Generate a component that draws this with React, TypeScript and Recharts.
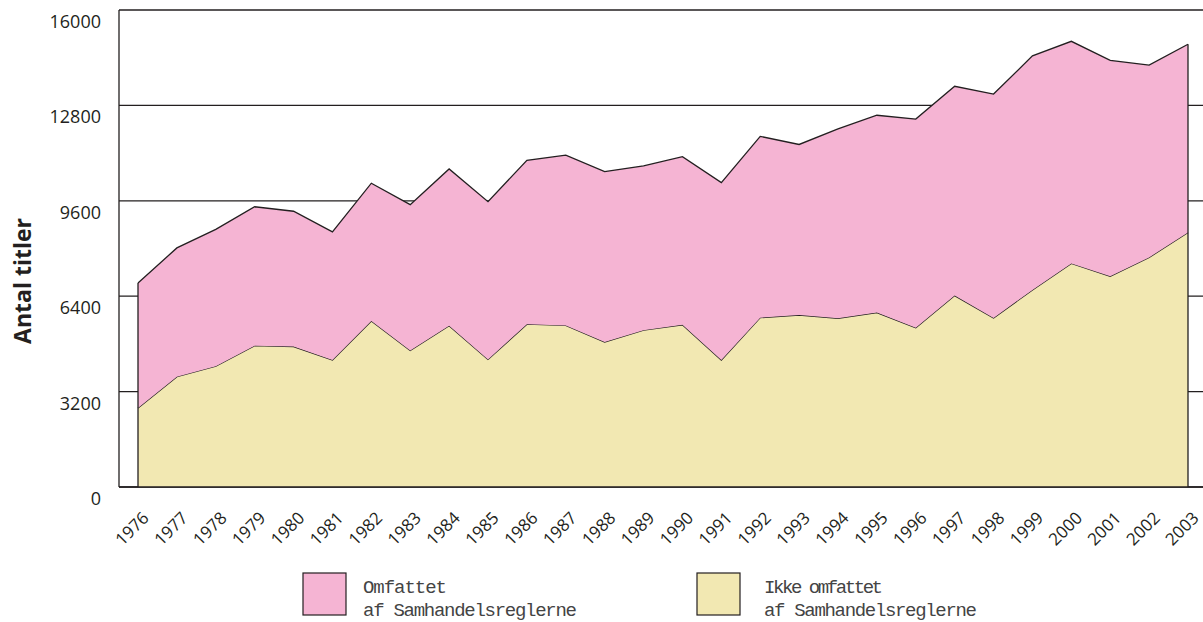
import React from 'react';
import { AreaChart, Area, XAxis, YAxis, CartesianGrid, ReferenceLine } from 'recharts';

const years = ['1976','1977','1978','1979','1980','1981','1982','1983','1984','1985','1986','1987','1988','1989','1990','1991','1992','1993','1994','1995','1996','1997','1998','1999','2000','2001','2002','2003'];
const ikkeOmfattet = [2650,3700,4050,4740,4710,4260,5570,4580,5410,4280,5460,5420,4860,5260,5440,4260,5680,5770,5660,5850,5340,6420,5670,6610,7500,7070,7700,8540];
const omfattet = [4190,4320,4590,4660,4540,4300,4620,4890,5260,5290,5500,5710,5720,5510,5640,5950,6080,5720,6350,6620,7000,7020,7510,7850,7450,7240,6450,6310];
const yTicks = [0,3200,6400,9600,12800,16000];
const seriesNames = ['Omfattet', 'Ikke omfattet'];
const legendSub = 'af Samhandelsreglerne';

const data = years.map((year, i) => ({ year, ikke: ikkeOmfattet[i], omfattet: omfattet[i] }));
const firstTotal = ikkeOmfattet[0] + omfattet[0];
const lastIdx = years.length - 1;
const lastTotal = ikkeOmfattet[lastIdx] + omfattet[lastIdx];

const FONT = '"Open Sans", sans-serif';
const INK = '#231f20';
const PINK = '#f5b4d3';
const YELLOW = '#f2e8b2';

const YTick = (props: any) => {
  const { y, payload } = props;
  return (
    <text x={101} y={y} dy={18} textAnchor="end" fontFamily={FONT} fontSize={18} fill={INK}>
      {payload.value}
    </text>
  );
};

const XTick = (props: any) => {
  const { x, y, payload } = props;
  return (
    <g transform={`translate(${x + 12},${y + 32})`}>
      <text textAnchor="end" transform="rotate(-45)" fontFamily={FONT} fontSize={17} fill={INK}>
        {payload.value}
      </text>
    </g>
  );
};

const YLabel = () => (
  <text
    x={31}
    y={281}
    transform="rotate(-90 31 281)"
    textAnchor="middle"
    fontFamily={FONT}
    fontWeight="bold"
    fontSize={23}
    fill={INK}
  >
    Antal titler
  </text>
);

const LegendBlock = () => (
  <svg width={1203} height={62} style={{ position: 'absolute', left: 0, top: 560 }}>
    <rect x={303} y={13} width={43} height={42} fill={PINK} stroke={INK} strokeWidth={1.2} />
    <text x={363} y={33} fontFamily='"Liberation Mono", monospace' fontSize={19} fill="#444" textLength={84} lengthAdjust="spacing">{seriesNames[0]}</text>
    <text x={363} y={56} fontFamily='"Liberation Mono", monospace' fontSize={19} fill="#444" textLength={214} lengthAdjust="spacing">{legendSub}</text>
    <rect x={697} y={13} width={43} height={42} fill={YELLOW} stroke={INK} strokeWidth={1.2} />
    <text x={764} y={33} fontFamily='"Liberation Mono", monospace' fontSize={19} fill="#444" textLength={119} lengthAdjust="spacing">{seriesNames[1]}</text>
    <text x={764} y={56} fontFamily='"Liberation Mono", monospace' fontSize={19} fill="#444" textLength={213} lengthAdjust="spacing">{legendSub}</text>
  </svg>
);

export default function App() {
  return (
    <div style={{ position: 'fixed', left: 0, top: 0, width: 1203, height: 622, overflow: 'hidden', background: '#fff' }}>
      <AreaChart width={1207} height={622} data={data} margin={{ top: 10, right: 0, left: 0, bottom: 0 }}>
        <CartesianGrid vertical={false} stroke={INK} strokeWidth={1.3} />
        <XAxis
          dataKey="year"
          height={135}
          padding={{ left: 19, right: 19 }}
          axisLine={{ stroke: INK, strokeWidth: 1.3 }}
          tickLine={false}
          tickSize={0}
          tickMargin={0}
          interval={0}
          tick={<XTick />}
        />
        <YAxis
          width={119}
          domain={[0, 16000]}
          ticks={yTicks}
          axisLine={{ stroke: INK, strokeWidth: 1.3 }}
          tickLine={false}
          tick={<YTick />}
          interval={0}
        />
        <Area type="linear" dataKey="ikke" stackId="a" fill={YELLOW} fillOpacity={1} stroke={INK} strokeWidth={1.3} isAnimationActive={false} />
        <Area type="linear" dataKey="omfattet" stackId="a" fill={PINK} fillOpacity={1} stroke={INK} strokeWidth={1.3} isAnimationActive={false} />
        <ReferenceLine segment={[{ x: years[0], y: 0 }, { x: years[0], y: firstTotal }]} stroke={INK} strokeWidth={1.3} />
        <ReferenceLine segment={[{ x: years[lastIdx], y: 0 }, { x: years[lastIdx], y: lastTotal }]} stroke={INK} strokeWidth={1.3} />
      </AreaChart>
      <svg width={60} height={622} style={{ position: 'absolute', left: 0, top: 0 }}>
        <YLabel />
      </svg>
      <LegendBlock />
    </div>
  );
}
